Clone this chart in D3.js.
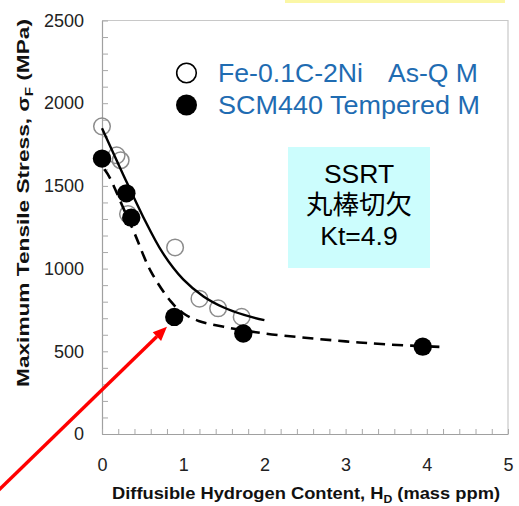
<!DOCTYPE html>
<html>
<head>
<meta charset="utf-8">
<script src="https://cdn.jsdelivr.net/npm/d3@7"></script>
<style>
  html, body { margin: 0; padding: 0; background: #ffffff; }
  svg { display: block; font-family: "Liberation Sans", Arial, sans-serif; }
</style>
</head>
<body>
<svg id="chart" width="519" height="506"></svg>
<script>
// Fe-0.1C-2Ni, as-quenched martensite: [H_D (mass ppm), fracture stress (MPa)]
const asQuenched = [
  [0.00, 1860], [0.18, 1685], [0.23, 1655], [0.32, 1330],
  [0.90, 1128], [1.20, 818], [1.43, 760], [1.72, 708]
];
// SCM440 tempered martensite
const tempered = [
  [0.00, 1665], [0.30, 1455], [0.36, 1308], [0.89, 708],
  [1.74, 608], [3.95, 528]
];
// trend curve through the as-quenched data (solid)
const asQuenchedTrend = [
  [0.00, 1848], [0.25, 1580], [0.50, 1320], [0.75, 1093], [1.00, 935],
  [1.25, 832], [1.50, 765], [1.75, 720], [2.00, 688]
];
// trend curve through the tempered data (dashed)
const temperedTrend = [
  [0.03, 1600], [0.10, 1546], [0.25, 1380], [0.40, 1214], [0.60, 985],
  [0.85, 800], [1.00, 730], [1.20, 682], [1.50, 648], [2.00, 608],
  [2.50, 582], [3.00, 560], [3.50, 542], [4.20, 526]
];
const xTickLabels = [0, 1, 2, 3, 4, 5];
const yTickLabels = [0, 500, 1000, 1500, 2000, 2500];
const legendLabels = [["Fe-0.1C-2Ni", "As-Q M"], ["SCM440 Tempered M"]];
const noteLines = ["SSRT", "丸棒切欠", "Kt=4.9"];
// arrow pointing at the tempered point near 0.9 ppm (data coordinates)
const arrowFrom = [-1.40, -400];
const arrowTo = [0.80, 648];

const svg = d3.select("#chart");
const x = d3.scaleLinear().domain([0, 5]).range([102, 508]);
const y = d3.scaleLinear().domain([0, 2500]).range([434, 20.5]);

// pale yellow strip along the top edge
svg.append("rect").attr("x", 285).attr("y", 0).attr("width", 220).attr("height", 3)
  .attr("fill", "#fbf7a6");

// frame: light grey top and right edges
svg.append("path")
  .attr("d", `M${x(0)},${y(2500)}H${x(5)}V${y(0)}`)
  .attr("fill", "none").attr("stroke", "#c8c8c8").attr("stroke-width", 1.2);

const yAxis = d3.axisLeft(y)
  .tickValues(d3.range(0, 2501, 100))
  .tickSizeInner(-6).tickSizeOuter(0).tickPadding(18)
  .tickFormat(d => yTickLabels.includes(d) ? d : "");
const xAxis = d3.axisBottom(x)
  .tickValues(d3.range(0, 26).map(i => i * 0.2))
  .tickSizeInner(-5).tickSizeOuter(0).tickPadding(24)
  .tickFormat(d => xTickLabels.some(v => Math.abs(v - d) < 1e-6) ? Math.round(d) : "");

const gy = svg.append("g").attr("transform", `translate(${x(0)},0)`).call(yAxis);
const gx = svg.append("g").attr("transform", `translate(0,${y(0)})`).call(xAxis);
[gx, gy].forEach(g => {
  g.select(".domain").attr("stroke", "#a0a0a0").attr("stroke-width", 1.2);
  g.selectAll(".tick line").attr("stroke", "#a8a8a8");
  g.selectAll(".tick text").attr("fill", "#222")
    .attr("font-family", "'Liberation Sans', Arial, sans-serif");
});
gy.selectAll(".tick text").attr("font-size", 18);
gx.selectAll(".tick text").attr("font-size", 18);

// axis titles
const yl = svg.append("text")
  .attr("transform", `translate(29,${203}) rotate(-90)`)
  .attr("text-anchor", "middle").attr("font-weight", "bold").attr("font-size", 16.5)
  .attr("fill", "#111")
  .attr("textLength", 368).attr("lengthAdjust", "spacingAndGlyphs");
yl.append("tspan").text("Maximum Tensile Stress, σ");
yl.append("tspan").attr("font-size", 11).attr("dy", 4).text("F");
yl.append("tspan").attr("dy", -4).text(" (MPa)");

const xl = svg.append("text")
  .attr("x", 306).attr("y", 499)
  .attr("text-anchor", "middle").attr("font-weight", "bold").attr("font-size", 16.5)
  .attr("fill", "#111")
  .attr("textLength", 388).attr("lengthAdjust", "spacingAndGlyphs");
xl.append("tspan").text("Diffusible Hydrogen Content, H");
xl.append("tspan").attr("font-size", 11).attr("dy", 4).text("D");
xl.append("tspan").attr("dy", -4).text(" (mass ppm)");

// legend
const legendRows = [73, 105];
svg.append("circle").attr("cx", 186.5).attr("cy", legendRows[0]).attr("r", 9.8)
  .attr("fill", "#fff").attr("stroke", "#000").attr("stroke-width", 1.6);
svg.append("circle").attr("cx", 186.5).attr("cy", legendRows[1]).attr("r", 10.5)
  .attr("fill", "#000");
const legendText = (tx, ty, str, len) => svg.append("text")
  .attr("x", tx).attr("y", ty).attr("font-size", 25).attr("fill", "#1f6cb2")
  .attr("textLength", len).attr("lengthAdjust", "spacingAndGlyphs").text(str);
legendText(218, legendRows[0] + 8.5, legendLabels[0][0], 145);
legendText(388, legendRows[0] + 8.5, legendLabels[0][1], 90);
legendText(218, legendRows[1] + 8.5, legendLabels[1][0], 262);

// test-condition note
svg.append("rect").attr("x", 288).attr("y", 147).attr("width", 142).attr("height", 121)
  .attr("fill", "#ccfdfd");
svg.append("g").selectAll("text").data(noteLines).join("text")
  .attr("x", 359).attr("y", (d, i) => 183 + i * 31)
  .attr("text-anchor", "middle").attr("font-size", 26.5).attr("fill", "#000")
  .attr("font-family", (d, i) => i === 1 ? "'Noto Sans CJK JP', sans-serif" : "'Liberation Sans', Arial, sans-serif")
  .text(d => d);

// trend curves
const line = d3.line().x(d => x(d[0])).y(d => y(d[1])).curve(d3.curveCatmullRom.alpha(0.5));

// open markers sit under the curves
svg.append("g").selectAll("circle").data(asQuenched).join("circle")
  .attr("cx", d => x(d[0])).attr("cy", d => y(d[1])).attr("r", 8.3)
  .attr("fill", "none").attr("stroke", "#8c8c8c").attr("stroke-width", 1.5);

svg.append("path").datum(asQuenchedTrend).attr("d", line)
  .attr("fill", "none").attr("stroke", "#000").attr("stroke-width", 2.4);
svg.append("path").datum(temperedTrend).attr("d", line)
  .attr("fill", "none").attr("stroke", "#000").attr("stroke-width", 2.6)
  .attr("stroke-dasharray", "11,7");

svg.append("g").selectAll("circle").data(tempered).join("circle")
  .attr("cx", d => x(d[0])).attr("cy", d => y(d[1])).attr("r", 9.2)
  .attr("fill", "#000");

// red arrow
const ax0 = x(arrowFrom[0]), ay0 = y(arrowFrom[1]);
const ax1 = x(arrowTo[0]), ay1 = y(arrowTo[1]);
const ang = Math.atan2(ay1 - ay0, ax1 - ax0);
const headLen = 14, headW = 6;
const bx = ax1 - headLen * Math.cos(ang), by = ay1 - headLen * Math.sin(ang);
svg.append("line").attr("x1", ax0).attr("y1", ay0).attr("x2", bx).attr("y2", by)
  .attr("stroke", "#ff0000").attr("stroke-width", 3.4);
svg.append("path")
  .attr("d", `M${ax1},${ay1}L${bx - headW * Math.sin(ang)},${by + headW * Math.cos(ang)}L${bx + headW * Math.sin(ang)},${by - headW * Math.cos(ang)}Z`)
  .attr("fill", "#ff0000");
</script>
</body>
</html>
